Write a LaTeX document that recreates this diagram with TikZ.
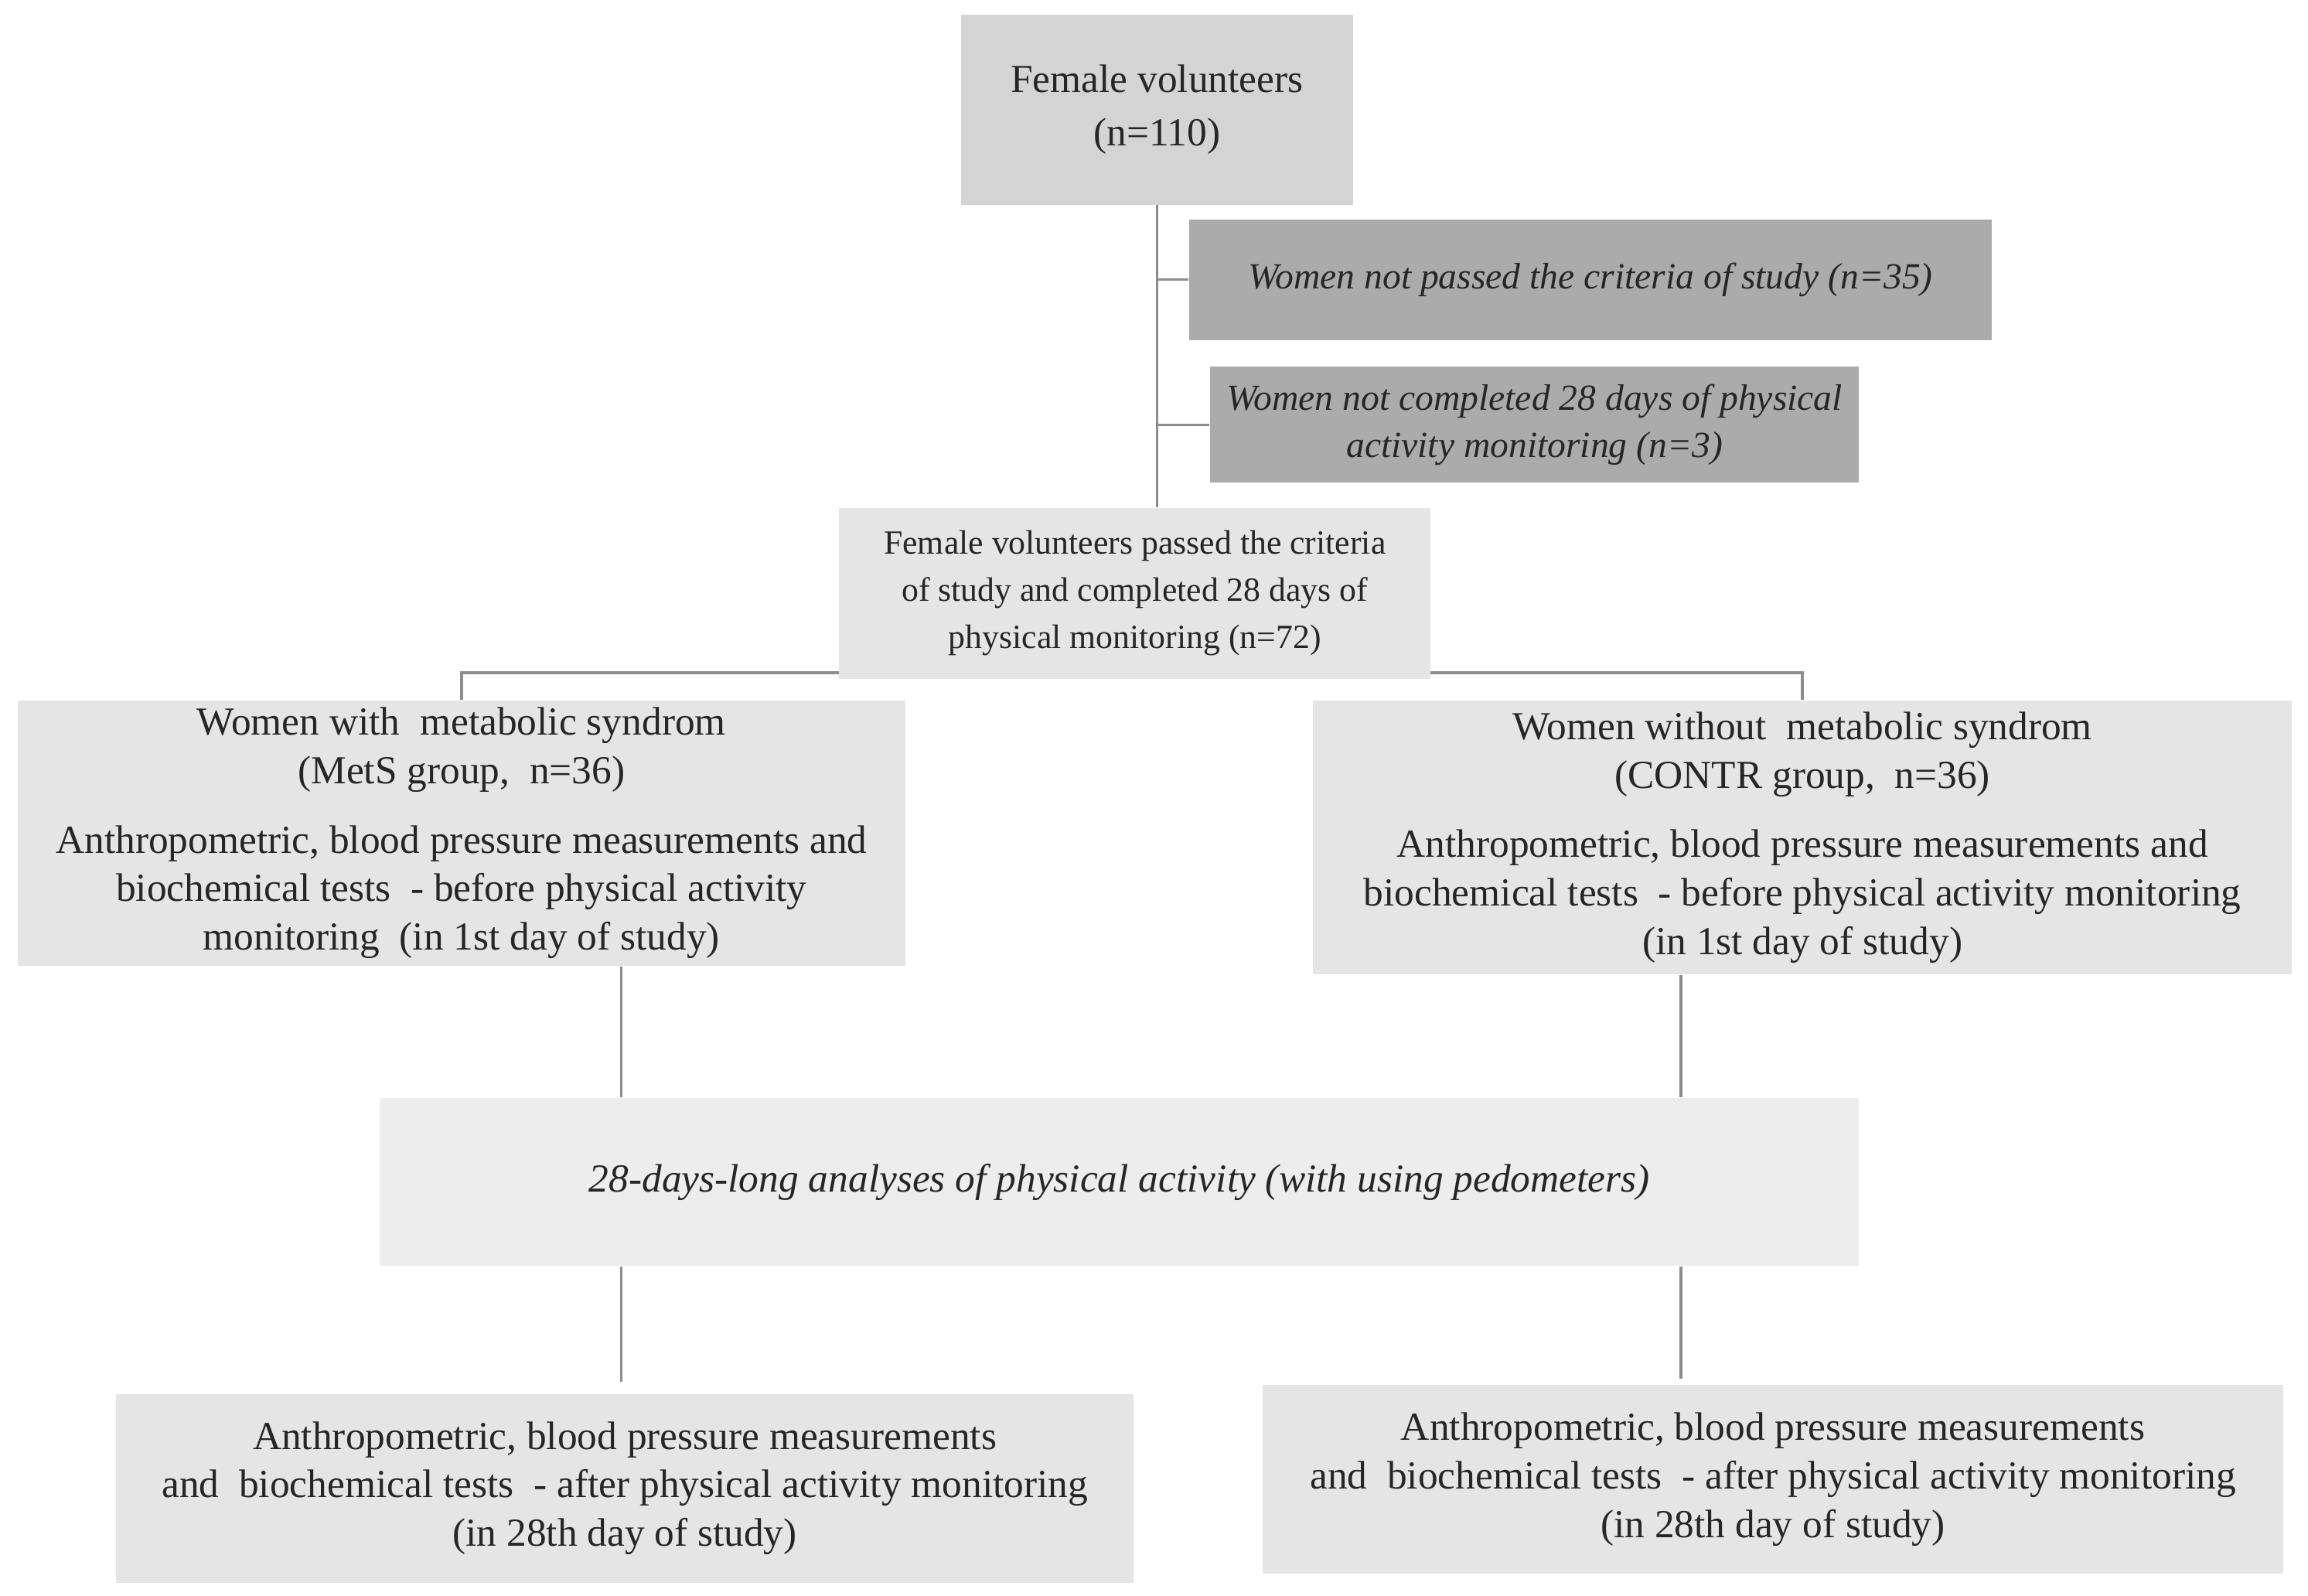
\documentclass[tikz,border=0pt]{standalone}
\usepackage{fontspec}
\setmainfont{TeX Gyre Heros}
\setmainfont{Liberation Serif}
\begin{document}
\begin{tikzpicture}[x=0.5pt,y=-0.5pt,
  box/.style={rectangle,inner sep=2pt,align=center,text=black!85},
  lgt/.style={box,fill=black!10},
  dark/.style={box,fill=black!33,font=\fontsize{12.5}{16}\selectfont\itshape},
  ln/.style={draw=black!45,line width=0.9pt}]
\useasboundingbox (0,0) rectangle (1568,1084);
\node[box,fill=black!17,minimum width=133pt,minimum height=64.5pt,font=\fontsize{13.5}{18}\selectfont] (top) at (786,74.5) {Female volunteers\\(n=110)};
\node[dark,minimum width=272.5pt,minimum height=41pt] (ex1) at (1080.5,190) {Women not passed the criteria of study (n=35)};
\node[dark,minimum width=220.5pt,minimum height=39.5pt] (ex2) at (1042.5,288.5) {Women not completed 28 days of physical\\activity monitoring (n=3)};
\node[lgt,minimum width=201pt,minimum height=58pt,font=\fontsize{11.5}{16}\selectfont] (mid) at (771,403) {Female volunteers passed the criteria\\of study and completed 28 days of\\physical monitoring (n=72)};
\node[lgt,minimum width=301.5pt,minimum height=90pt,font=\fontsize{13.5}{16.5}\selectfont] (left) at (313.5,566) {Women with \ metabolic syndrom\\(MetS group, \ n=36)\\[7pt]Anthropometric, blood pressure measurements and\\biochemical tests \ - before physical activity\\monitoring \ (in 1st day of study)};
\node[lgt,minimum width=332.5pt,minimum height=93pt,font=\fontsize{13.5}{16.5}\selectfont] (right) at (1224.5,569) {Women without \ metabolic syndrom\\(CONTR group, \ n=36)\\[7pt]Anthropometric, blood pressure measurements and\\biochemical tests \ - before physical activity monitoring\\(in 1st day of study)};
\node[box,fill=black!7,minimum width=502.5pt,minimum height=57pt,font=\fontsize{13.5}{16}\selectfont\itshape] (ana) at (760.5,803) {28-days-long analyses of physical activity (with using pedometers)};
\node[lgt,minimum width=345.5pt,minimum height=64pt,font=\fontsize{13.5}{16.5}\selectfont] (bl) at (424.5,1011) {Anthropometric, blood pressure measurements\\and \ biochemical tests \ - after physical activity monitoring\\(in 28th day of study)};
\node[lgt,minimum width=346.5pt,minimum height=64pt,font=\fontsize{13.5}{16.5}\selectfont] (br) at (1204.5,1005) {Anthropometric, blood pressure measurements\\and \ biochemical tests \ - after physical activity monitoring\\(in 28th day of study)};
\coordinate (c1) at (422,0);
\coordinate (c2) at (1142,0);
\coordinate (ml) at (570,457);
\coordinate (mr) at (972,457);
\draw[ln] (top.south) -- (top.south |- mid.north);
\draw[ln] (top.south |- ex1.west) -- (ex1.west);
\draw[ln] (top.south |- ex2.west) -- (ex2.west);
\draw[ln] (ml) -| (left.north);
\draw[ln] (mr) -| (right.north);
\draw[ln] (left.south -| c1) -- (ana.north -| c1);
\draw[ln] (right.south -| c2) -- (ana.north -| c2);
\draw[ln] (ana.south -| c1) -- ([yshift=4pt]bl.north -| c1);
\draw[ln] (ana.south -| c2) -- ([yshift=2pt]br.north -| c2);
\end{tikzpicture}
\end{document}
